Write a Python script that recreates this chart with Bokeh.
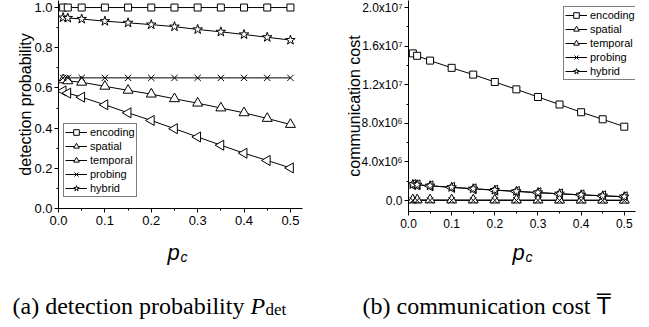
import math
from bokeh.plotting import figure
from bokeh.layouts import column, row
from bokeh.models import Range1d, FixedTicker, CustomJSTickFormatter, PrintfTickFormatter
from bokeh.core.properties import value
from bokeh.embed import file_html
from bokeh.resources import INLINE

# ---------------- data ----------------
pc = [0.01, 0.02, 0.05, 0.1, 0.15, 0.2, 0.25, 0.3, 0.35, 0.4, 0.45, 0.5]
series_names = ["encoding", "spatial", "temporal", "probing", "hybrid"]

det_encoding = [1.0, 1.0, 1.0, 1.0, 1.0, 1.0, 1.0, 1.0, 1.0, 1.0, 1.0, 1.0]
det_spatial = [0.585, 0.574, 0.554, 0.516, 0.476, 0.438, 0.397, 0.356, 0.315, 0.275, 0.239, 0.202]
det_temporal = [0.640, 0.635, 0.628, 0.608, 0.588, 0.569, 0.546, 0.524, 0.500, 0.476, 0.448, 0.418]
det_probing = [0.65, 0.65, 0.65, 0.65, 0.65, 0.65, 0.65, 0.65, 0.65, 0.65, 0.65, 0.65]
det_hybrid = [0.950, 0.948, 0.943, 0.932, 0.924, 0.915, 0.905, 0.891, 0.879, 0.866, 0.852, 0.838]

cost_encoding = [1.525e7, 1.50e7, 1.45e7, 1.375e7, 1.305e7, 1.228e7, 1.152e7, 1.073e7, 0.995e7, 0.915e7, 0.842e7, 0.765e7]
cost_spatial = [1.65e6, 1.62e6, 1.52e6, 1.36e6, 1.21e6, 1.07e6, 0.94e6, 0.81e6, 0.69e6, 0.58e6, 0.48e6, 0.39e6]
cost_temporal = [6.0e4, 5.9e4, 5.7e4, 5.4e4, 5.1e4, 4.8e4, 4.5e4, 4.2e4, 3.9e4, 3.6e4, 3.3e4, 3.0e4]
cost_probing = [1.0e4, 1.0e4, 1.0e4, 1.0e4, 1.0e4, 1.0e4, 1.0e4, 1.0e4, 1.0e4, 1.0e4, 1.0e4, 1.0e4]
cost_hybrid = [1.66e6, 1.63e6, 1.53e6, 1.37e6, 1.22e6, 1.08e6, 0.95e6, 0.82e6, 0.70e6, 0.59e6, 0.49e6, 0.40e6]

x_ticks = [0.0, 0.1, 0.2, 0.3, 0.4, 0.5]
x_minor = [0.05, 0.15, 0.25, 0.35, 0.45]
det_ticks = [0.0, 0.2, 0.4, 0.6, 0.8, 1.0]
det_minor = [0.1, 0.3, 0.5, 0.7, 0.9]
cost_ticks = [0.0, 4.0e6, 8.0e6, 1.2e7, 1.6e7, 2.0e7]
cost_minor = [2.0e6, 6.0e6, 1.0e7, 1.4e7, 1.8e7]

x_label_main = "p"
x_label_sub = "c"
y_label_a = "detection probability"
y_label_b = "communication cost"
caption_a = "(a) detection probability "
caption_a_sym = "P"
caption_a_sub = "det"
caption_b = "(b) communication cost "
caption_b_sym = "T\u0305"

# ---------------- styling ----------------
SANS = "Liberation Sans"
SERIF = "Liberation Serif"
markers = {
    "encoding": dict(marker="square", size=7, angle=0.0),
    "spatial": dict(marker="triangle", size=10, angle=math.pi / 2),
    "temporal": dict(marker="triangle", size=10, angle=0.0),
    "probing": dict(marker="x", size=9, angle=0.0),
    "hybrid": dict(marker="star", size=10, angle=0.0),
}


def style_axes(p, tick_font, ylab, label_standoff):
    p.grid.visible = False
    p.outline_line_color = None
    p.background_fill_color = "white"
    p.border_fill_color = "white"
    for ax in (p.xaxis[0], p.yaxis[0]):
        ax.axis_line_color = "black"
        ax.axis_line_width = 1
        ax.major_tick_line_color = "black"
        ax.minor_tick_line_color = "black"
        ax.major_tick_in = 0
        ax.major_tick_out = 4
        ax.minor_tick_in = 0
        ax.minor_tick_out = 2
        ax.major_label_text_font = SANS
        ax.major_label_text_font_size = tick_font
        ax.major_label_text_color = "black"
    p.xaxis.major_label_standoff = 3
    p.yaxis.major_label_standoff = 2
    p.yaxis.axis_label = ylab
    p.yaxis.axis_label_text_font = SANS
    p.yaxis.axis_label_text_font_size = "16px"
    p.yaxis.axis_label_text_font_style = "normal"
    p.yaxis.axis_label_text_color = "black"
    p.yaxis.axis_label_standoff = label_standoff
    p.xaxis.ticker = FixedTicker(ticks=x_ticks, minor_ticks=x_minor)
    p.xaxis.formatter = PrintfTickFormatter(format="%.1f")


def add_series(p, data):
    for name, ys in zip(series_names, data):
        p.line(pc, ys, line_color="black", line_width=1, legend_label=name)
    for name, ys in zip(series_names, data):
        m = markers[name]
        p.scatter(pc, ys, marker=m["marker"], size=m["size"], angle=m["angle"],
                  fill_color="white", line_color="black", line_width=1, legend_label=name)


def style_legend(p, loc):
    lg = p.legend[0]
    lg.location = loc
    lg.border_line_color = "black"
    lg.border_line_width = 1
    lg.background_fill_color = "white"
    lg.background_fill_alpha = 1.0
    lg.label_text_font = SANS
    lg.label_text_font_size = "11px"
    lg.label_text_color = "black"
    lg.glyph_width = 22
    lg.glyph_height = 14
    lg.label_height = 14
    lg.label_standoff = 3
    lg.spacing = 0
    lg.padding = 1
    lg.margin = 0


# ---------------- left panel ----------------
p1 = figure(width=324, height=235, frame_width=244, frame_height=208,
            min_border_left=58, min_border_right=22, min_border_top=0, min_border_bottom=27,
            x_range=Range1d(0, 0.526), y_range=Range1d(0, 1.035),
            output_backend="svg", toolbar_location=None)
style_axes(p1, "13px", y_label_a, -3)
p1.yaxis.ticker = FixedTicker(ticks=det_ticks, minor_ticks=det_minor)
p1.yaxis.formatter = PrintfTickFormatter(format="%.1f")
add_series(p1, [det_encoding, det_spatial, det_temporal, det_probing, det_hybrid])
style_legend(p1, (5, 11))

# ---------------- right panel ----------------
p2 = figure(width=325, height=235, frame_width=227, frame_height=211,
            min_border_left=84, min_border_right=14, min_border_top=0, min_border_bottom=24,
            x_range=Range1d(0, 0.526), y_range=Range1d(-1.14e6, 2.073e7),
            output_backend="svg", toolbar_location=None)
style_axes(p2, "12px", y_label_b, -4)
p2.yaxis.ticker = FixedTicker(ticks=cost_ticks, minor_ticks=cost_minor)
p2.yaxis.formatter = CustomJSTickFormatter(code="""
const sup = {"0":"\u2070","1":"\u00b9","2":"\u00b2","3":"\u00b3","4":"\u2074",
             "5":"\u2075","6":"\u2076","7":"\u2077","8":"\u2078","9":"\u2079"};
if (Math.abs(tick) < 1) { return "0.0"; }
const e = Math.floor(Math.log10(Math.abs(tick)) + 1e-9);
const m = tick / Math.pow(10, e);
let s = "";
for (const ch of String(e)) { s += sup[ch]; }
return m.toFixed(1) + "x10" + s;
""")
add_series(p2, [cost_encoding, cost_spatial, cost_temporal, cost_probing, cost_hybrid])
style_legend(p2, (155, 131))

# ---------------- bottom strip: x labels and captions ----------------
cap = figure(width=649, height=92, x_range=Range1d(0, 649), y_range=Range1d(92, 0),
             x_axis_location=None, y_axis_location=None,
             min_border=0, output_backend="svg", toolbar_location=None)
cap.grid.visible = False
cap.outline_line_color = None
cap.background_fill_color = "white"
cap.border_fill_color = "white"

# italic p with subscript c under each panel
cap.text(x=[167, 512], y=[17, 17], text=[x_label_main, x_label_main],
         text_font=value(SANS), text_font_size="22px", text_font_style="italic",
         text_baseline="alphabetic", text_align="left", text_color="black")
cap.text(x=[180, 525], y=[21, 21], text=[x_label_sub, x_label_sub],
         text_font=value(SANS), text_font_size="14px", text_font_style="italic",
         text_baseline="alphabetic", text_align="left", text_color="black")

# captions
cap.text(x=[12], y=[70], text=[caption_a], text_font=value(SERIF), text_font_size="24px",
         text_baseline="alphabetic", text_align="left", text_color="black")
cap.text(x=[250], y=[70], text=[caption_a_sym], text_font=value(SERIF), text_font_size="24px",
         text_font_style="italic", text_baseline="alphabetic", text_align="left", text_color="black")
cap.text(x=[265], y=[74], text=[caption_a_sub], text_font=value(SERIF), text_font_size="17px",
         text_baseline="alphabetic", text_align="left", text_color="black")
cap.text(x=[362], y=[70], text=[caption_b], text_font=value(SERIF), text_font_size="24px",
         text_baseline="alphabetic", text_align="left", text_color="black")
cap.text(x=[596], y=[70], text=[caption_b_sym], text_font=value(SANS), text_font_size="24px",
         text_baseline="alphabetic", text_align="left", text_color="black")

layout = column(row(p1, p2), cap)
open("out.html", "w").write(file_html(layout, INLINE))
